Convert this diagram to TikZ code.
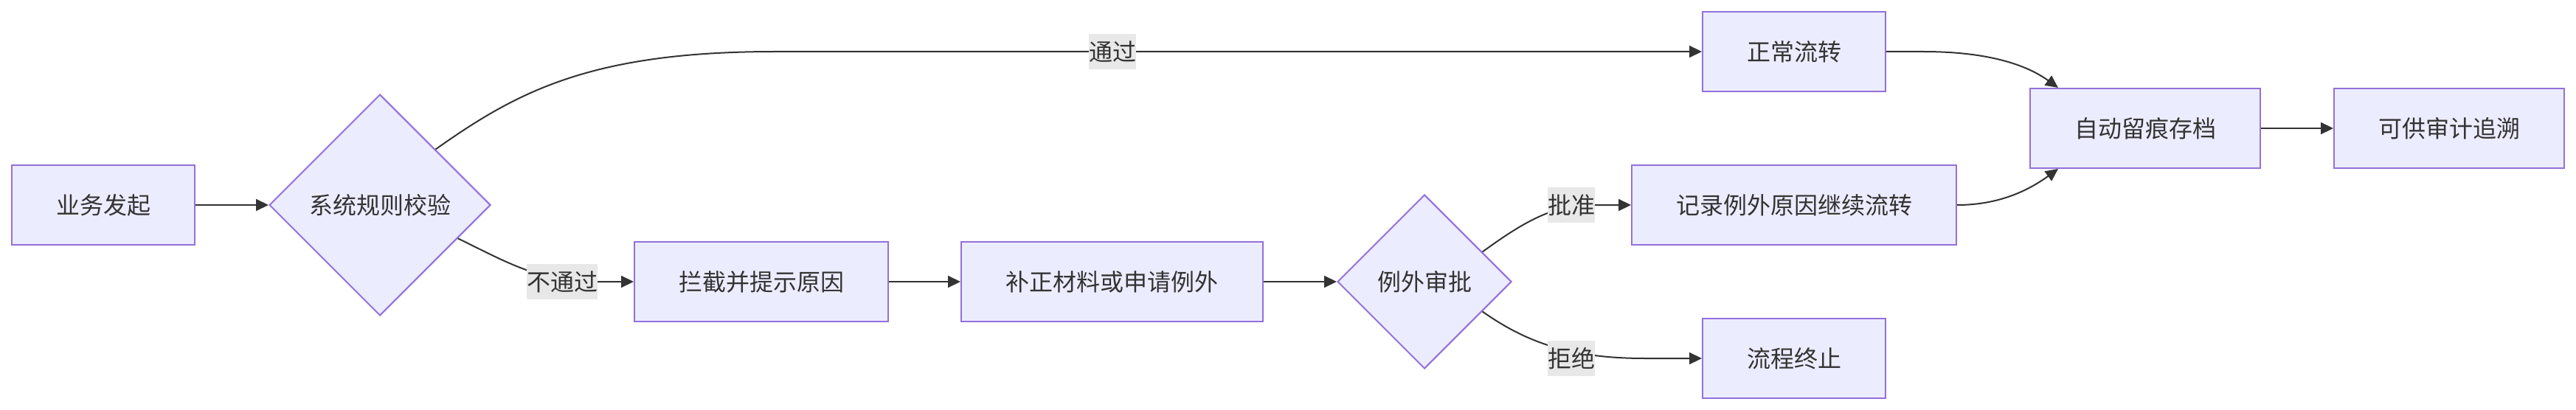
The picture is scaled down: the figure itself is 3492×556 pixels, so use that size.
\documentclass[tikz,border=0pt]{standalone}
\usepackage{fontspec}
\setmainfont{Noto Sans CJK SC}
\usetikzlibrary{shapes.geometric,arrows.meta,calc}
\definecolor{boxfill}{HTML}{ECECFF}
\definecolor{boxline}{HTML}{9370DB}
\definecolor{edgecol}{HTML}{333333}
\definecolor{txtcol}{HTML}{333333}
\definecolor{lblbg}{HTML}{E8E8E8}
\tikzset{
  base/.style={fill=boxfill, draw=boxline, line width=2pt, text=txtcol,
    font=\fontsize{32}{38}\selectfont, inner sep=0pt},
  proc/.style={base, rectangle, minimum height=108pt},
  decis/.style={base, diamond, aspect=1},
  flow/.style={draw=edgecol, line width=2pt, -{Triangle[length=17pt,width=16pt]}},
  lbl/.style={fill=lblbg, text=txtcol, font=\fontsize{32}{38}\selectfont,
    inner xsep=0pt, inner ysep=0pt, minimum height=48pt},
}
\begin{document}
\begin{tikzpicture}[x=1pt,y=-1pt]
\fill[white] (0,0) rectangle (3492,556);
\useasboundingbox (0,0) rectangle (3492,556);

\node[proc, minimum width=248pt] (A) at (140,278) {业务发起};
\node[decis, minimum width=300pt, minimum height=300pt] (B) at (515,278) {系统规则校验};
\node[proc, minimum width=344pt] (C) at (1032,382) {拦截并提示原因};
\node[proc, minimum width=409pt] (D) at (1507.5,382) {补正材料或申请例外};
\node[decis, minimum width=236pt, minimum height=236pt] (E) at (1931,382) {例外审批};
\node[proc, minimum width=248pt] (G) at (2432,70) {正常流转};
\node[proc, minimum width=440pt] (F) at (2432,278) {记录例外原因继续流转};
\node[proc, minimum width=248pt] (H) at (2432,486) {流程终止};
\node[proc, minimum width=312pt] (I) at (2908,174) {自动留痕存档};
\node[proc, minimum width=312pt] (J) at (3320,174) {可供审计追溯};

\draw[flow] (A) -- (B);
\draw[flow] (B.north east) .. controls (700,125) and (800,70) .. (1050,70) -- (G.west);
\draw[flow] ($(B.east)!0.3!(B.south)$) .. controls (680,352) and (730,382) .. (800,382) -- (C.west);
\draw[flow] (C) -- (D);
\draw[flow] (D) -- (E);
\draw[flow] ($(E.east)!0.34!(E.north)$) .. controls (2060,305) and (2100,280) .. (2150,278) -- (F.west);
\draw[flow] ($(E.east)!0.34!(E.south)$) .. controls (2070,465) and (2130,486) .. (2230,486) -- (H.west);
\draw[flow] (G.east) -- ++(50,0) .. controls (2700,70) and (2750,90) .. ([xshift=39pt]I.north west);
\draw[flow] (F.east) .. controls (2710,278) and (2750,258) .. ([xshift=39pt]I.south west);
\draw[flow] (I) -- (J);

\node[lbl] (l1) at (1508,70) {通过};
\node[lbl] (l2) at (762,382) {不通过};
\node[lbl] (l3) at (2130,278) {批准};
\node[lbl] (l4) at (2130,486) {拒绝};
\end{tikzpicture}
\end{document}
